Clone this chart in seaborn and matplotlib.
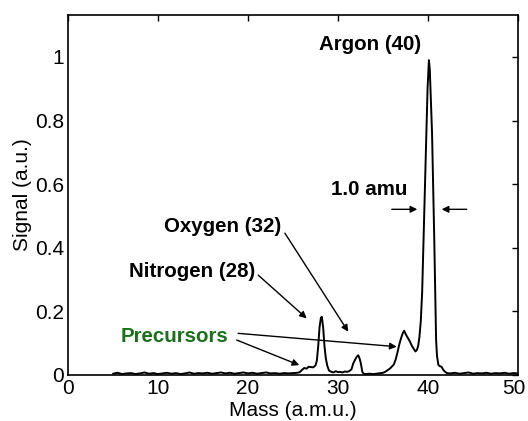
import matplotlib
matplotlib.use("Agg")
import matplotlib.pyplot as plt
import matplotlib.transforms as mtransforms
import seaborn as sns
import pandas as pd

# ---- data ----
base_left_mass = [5.0, 5.5, 6.0, 6.5, 7.0, 7.5, 8.0, 8.5, 9.0, 9.5, 10.0, 10.5, 11.0, 11.5,
                  12.0, 12.5, 13.0, 13.5, 14.0, 14.5, 15.0, 15.5, 16.0, 16.5, 17.0, 17.5,
                  18.0, 18.5, 19.0, 19.5, 20.0, 20.5, 21.0, 21.5, 22.0, 22.5, 23.0, 23.5,
                  24.0, 24.5, 25.0, 25.5]
base_left_signal = [0.004, 0.007, 0.003, 0.005, 0.006, 0.003, 0.005, 0.008, 0.004, 0.006, 0.003,
                    0.005, 0.007, 0.004, 0.006, 0.003, 0.005, 0.008, 0.004, 0.006, 0.005, 0.007,
                    0.004, 0.006, 0.008, 0.005, 0.007, 0.004, 0.006, 0.008, 0.005, 0.007, 0.004,
                    0.006, 0.008, 0.005, 0.006, 0.004, 0.006, 0.005, 0.006, 0.007]
peak_mass = [25.75, 26.0, 26.25, 26.5, 26.75, 27.0, 27.25, 27.5, 27.65, 27.8, 27.95, 28.1, 28.2,
             28.35, 28.5, 28.65, 28.8, 29.0, 29.25, 29.5, 29.75, 30.0, 30.25, 30.5, 30.75, 31.0,
             31.25, 31.5, 31.7, 31.9, 32.1, 32.25, 32.4, 32.55, 32.7, 32.85, 33.0, 33.5, 34.0,
             34.5, 35.0, 35.25, 35.5, 35.8, 36.0, 36.2, 36.4, 36.6, 36.8, 37.0, 37.2, 37.35,
             37.5, 37.65, 37.8, 38.0, 38.2, 38.4, 38.6, 38.75, 38.9, 39.05, 39.2, 39.35, 39.5,
             39.65, 39.8, 39.95, 40.1, 40.2, 40.3, 40.45, 40.6, 40.7, 40.8, 40.9, 41.0, 41.15,
             41.3, 41.5, 41.7, 41.9, 42.1]
peak_signal = [0.009, 0.016, 0.022, 0.020, 0.026, 0.025, 0.024, 0.030, 0.045, 0.090, 0.150, 0.180,
               0.183, 0.150, 0.090, 0.052, 0.030, 0.014, 0.010, 0.008, 0.012, 0.009, 0.010, 0.008,
               0.011, 0.010, 0.012, 0.018, 0.037, 0.048, 0.058, 0.062, 0.052, 0.035, 0.010, 0.004,
               0.003, 0.004, 0.003, 0.005, 0.007, 0.010, 0.015, 0.021, 0.027, 0.033, 0.048, 0.070,
               0.095, 0.115, 0.132, 0.139, 0.130, 0.122, 0.115, 0.105, 0.092, 0.083, 0.074, 0.078,
               0.090, 0.120, 0.170, 0.260, 0.420, 0.580, 0.740, 0.900, 0.990, 0.960, 0.880, 0.760,
               0.560, 0.420, 0.260, 0.110, 0.060, 0.032, 0.028, 0.026, 0.016, 0.010, 0.006]
base_right_mass = [42.5, 43.0, 43.5, 44.0, 44.5, 45.0, 45.5, 46.0, 46.5, 47.0, 47.5, 48.0,
                   48.5, 49.0, 49.5, 50.0]
base_right_signal = [0.005, 0.007, 0.004, 0.006, 0.008, 0.004, 0.006, 0.005, 0.007, 0.004, 0.006,
                     0.005, 0.007, 0.004, 0.006, 0.005]

x_ticks = [0, 10, 20, 30, 40, 50]
y_ticks = [0, 0.2, 0.4, 0.6, 0.8, 1]
y_tick_labels = ["0", "0.2", "0.4", "0.6", "0.8", "1"]

mass = base_left_mass + peak_mass + base_right_mass
signal = base_left_signal + peak_signal + base_right_signal
df = pd.DataFrame({"Mass": mass, "Signal": signal})

sns.set_theme(style="white")
plt.rcParams["font.family"] = ["Liberation Sans", "DejaVu Sans"]
plt.rcParams["text.color"] = "black"
plt.rcParams["axes.labelcolor"] = "black"

fig = plt.figure(figsize=(5.28, 4.21), dpi=100)
ax = fig.add_axes([68 / 528, 46 / 421, 450 / 528, 360 / 421])
sns.lineplot(data=df, x="Mass", y="Signal", ax=ax, color="black", lw=1.4, sort=False)

ax.set_xlim(0, 50)
ax.set_ylim(0, 1.132)
ax.set_xticks(x_ticks)
ax.set_xticklabels([str(t) for t in x_ticks])
ax.set_yticks(y_ticks)
ax.set_yticklabels(y_tick_labels)
ax.tick_params(direction="in", length=4, width=1, top=True, right=True,
               labelsize=15, colors="black", pad=3)
# nudge the last x tick label so it stays inside the figure
last = ax.get_xticklabels()[-1]
last.set_transform(last.get_transform() +
                   mtransforms.ScaledTranslation(-4 / 100, 0, fig.dpi_scale_trans))
for s in ax.spines.values():
    s.set_color("black")
    s.set_linewidth(1.2)
ax.set_xlabel("Mass (a.m.u.)", fontsize=15, color="black", labelpad=2)
ax.set_ylabel("Signal (a.u.)", fontsize=15, color="black", labelpad=2)

bold = dict(fontsize=14.8, fontweight="bold", ha="center", va="center", color="black")
arrow = dict(arrowstyle="-|>", color="black", lw=1.0, mutation_scale=10, shrinkA=0, shrinkB=0)

ax.text(33.56, 1.038, "Argon (40)", **bold)
ax.text(33.44, 0.582, "1.0 amu", **bold)
ax.annotate("", xy=(38.81, 0.521), xytext=(35.97, 0.521), arrowprops=arrow)
ax.annotate("", xy=(41.52, 0.521), xytext=(44.3, 0.521), arrowprops=arrow)

ax.text(17.2, 0.466, "Oxygen (32)", **bold)
ax.annotate("", xy=(31.14, 0.136), xytext=(24.1, 0.446), arrowprops=arrow)

ax.text(13.74, 0.325, "Nitrogen (28)", **bold)
ax.annotate("", xy=(26.52, 0.178), xytext=(21.14, 0.314), arrowprops=arrow)

prec = dict(bold)
prec["color"] = "#1b701b"
ax.text(11.8, 0.120, "Precursors", **prec)
ax.annotate("", xy=(25.7, 0.031), xytext=(18.74, 0.110), arrowprops=arrow)
ax.annotate("", xy=(36.52, 0.089), xytext=(18.9, 0.131), arrowprops=arrow)

fig.savefig("out.png", dpi=100)
